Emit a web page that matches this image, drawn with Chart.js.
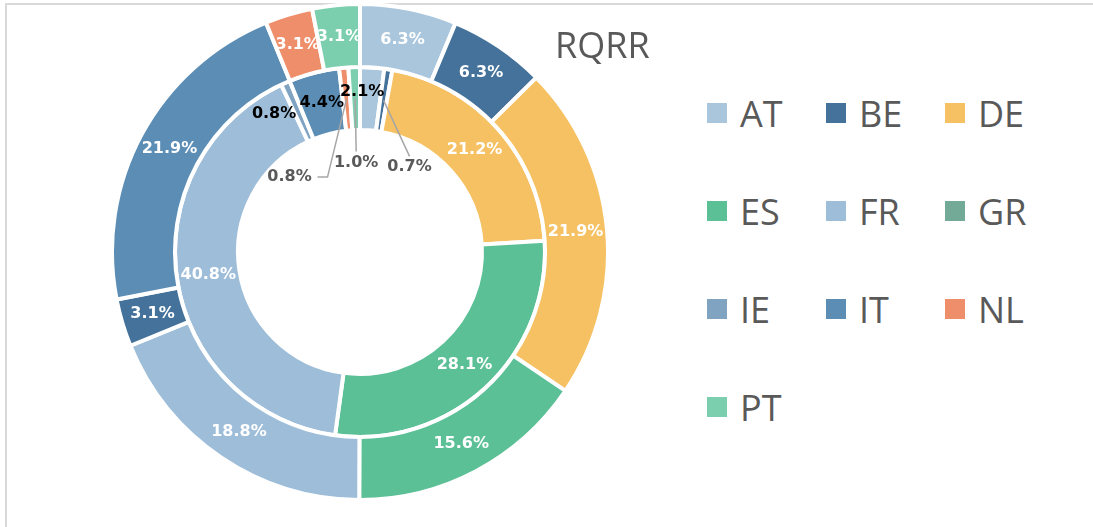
<!DOCTYPE html>
<html>
<head>
<meta charset="utf-8">
<script src="https://cdn.jsdelivr.net/npm/chart.js@4.4.1/dist/chart.umd.min.js"></script>
<style>
  html, body { margin: 0; padding: 0; background: #fff; }
  #wrap { position: relative; width: 1093px; height: 527px; overflow: hidden; font-family: "Open Sans", sans-serif; }
  #frame { position: absolute; left: 5px; top: 3px; width: 1200px; height: 600px; border-left: 2px solid #d9d9d9; border-top: 2px solid #d9d9d9; }
  #chartBox { position: absolute; left: 110px; top: 2px; width: 500px; height: 500px; }
  #title { position: absolute; left: 555px; top: 23px; font-size: 36px; color: #595959; line-height: 1.2; }
  #legend { position: absolute; left: 707px; top: 64px; display: grid; grid-template-columns: 119px 119px 119px; grid-auto-rows: 98px; }
  .item { display: flex; align-items: center; font-size: 36px; color: #595959; white-space: nowrap; }
  .box { width: 20px; height: 20px; margin-right: 13px; flex: none; }
</style>
</head>
<body>
<div id="wrap">
  <div id="frame"></div>
  <div id="chartBox"><canvas id="mycanvas" width="500" height="500"></canvas></div>
  <div id="title">RQRR</div>
  <div id="legend"></div>
</div>
<script>
// countries (legend order)
var labels = ["AT", "BE", "DE", "ES", "FR", "GR", "IE", "IT", "NL", "PT"];
var colors = ["#a9c6dd", "#44729a", "#f6c163", "#5cc097", "#9dbdd9", "#72a997", "#7fa3c0", "#5b8db5", "#ef8e6a", "#7ccfae"];
// outer ring paints IE darker than the legend swatch
var outerColors = ["#a9c6dd", "#44729a", "#f6c163", "#5cc097", "#9dbdd9", "#72a997", "#44729a", "#5b8db5", "#ef8e6a", "#7ccfae"];

// outer ring (%)
var outerValues = [6.3, 6.3, 21.9, 15.6, 18.8, 0, 3.1, 21.9, 3.1, 3.1];
// inner ring (%)
var innerValues = [2.1, 0.7, 21.2, 28.1, 40.8, 0, 0.8, 4.4, 0.8, 1.0];

var titleText = "RQRR";

/* label tweaks for the small inner slices */
var labelTweaks = [
  {},
  {
    AT: { dx: -8, dy: -7, color: "#000" },
    BE: { dx: 26, dy: 67, color: "#595959", leader: [[0, -11]] },
    IE: { dx: -24, dy: 2, color: "#000" },
    IT: { color: "#000" },
    NL: { dx: -57, dy: 78, color: "#595959", leader: [[38, 0], [28, 0]] },
    PT: { dx: 1, dy: 64, color: "#595959", leader: [[0, -11]] }
  }
];

document.getElementById("title").textContent = titleText;

var legend = document.getElementById("legend");
labels.forEach(function(l, i) {
  var it = document.createElement("div");
  it.className = "item";
  var b = document.createElement("span");
  b.className = "box";
  b.style.background = colors[i];
  it.appendChild(b);
  it.appendChild(document.createTextNode(l));
  legend.appendChild(it);
});

var pctLabels = {
  id: "pctLabels",
  afterDatasetsDraw: function(chart, args, opts) {
    var ctx = chart.ctx;
    ctx.save();
    ctx.font = "bold 16px 'DejaVu Sans'";
    ctx.textAlign = "center";
    ctx.textBaseline = "middle";
    chart.data.datasets.forEach(function(ds, di) {
      var meta = chart.getDatasetMeta(di);
      meta.data.forEach(function(arc, i) {
        var v = ds.data[i];
        if (!v) return;
        var p = arc.getProps(["x", "y", "startAngle", "endAngle", "innerRadius", "outerRadius"], true);
        var a = (p.startAngle + p.endAngle) / 2;
        var r = (p.innerRadius + p.outerRadius) / 2;
        var cx = p.x + Math.cos(a) * r;
        var cy = p.y + Math.sin(a) * r;
        var t = (opts.tweaks[di] || {})[labels[i]] || {};
        var lx = cx + (t.dx || 0);
        var ly = cy + (t.dy || 0);
        if (t.leader) {
          ctx.strokeStyle = "#a6a6a6";
          ctx.lineWidth = 1.5;
          ctx.beginPath();
          ctx.moveTo(cx, cy);
          t.leader.forEach(function(pt) { ctx.lineTo(lx + pt[0], ly + pt[1]); });
          ctx.stroke();
        }
        ctx.fillStyle = t.color || "#fff";
        ctx.fillText(v.toFixed(1) + "%", lx, ly);
      });
    });
    ctx.restore();
  }
};

var ctx = document.getElementById("mycanvas");
var chart = new Chart(ctx, {
  type: "doughnut",
  data: {
    labels: labels,
    datasets: [
      { data: outerValues, backgroundColor: outerColors, borderColor: "#fff", borderWidth: 4 },
      { data: innerValues, backgroundColor: colors, borderColor: "#fff", borderWidth: 4 }
    ]
  },
  options: {
    responsive: false,
    animation: false,
    radius: 248,
    cutout: 122,
    events: [],
    plugins: {
      legend: { display: false },
      tooltip: { enabled: false },
      pctLabels: { tweaks: labelTweaks }
    }
  },
  plugins: [pctLabels]
});
</script>
</body>
</html>
